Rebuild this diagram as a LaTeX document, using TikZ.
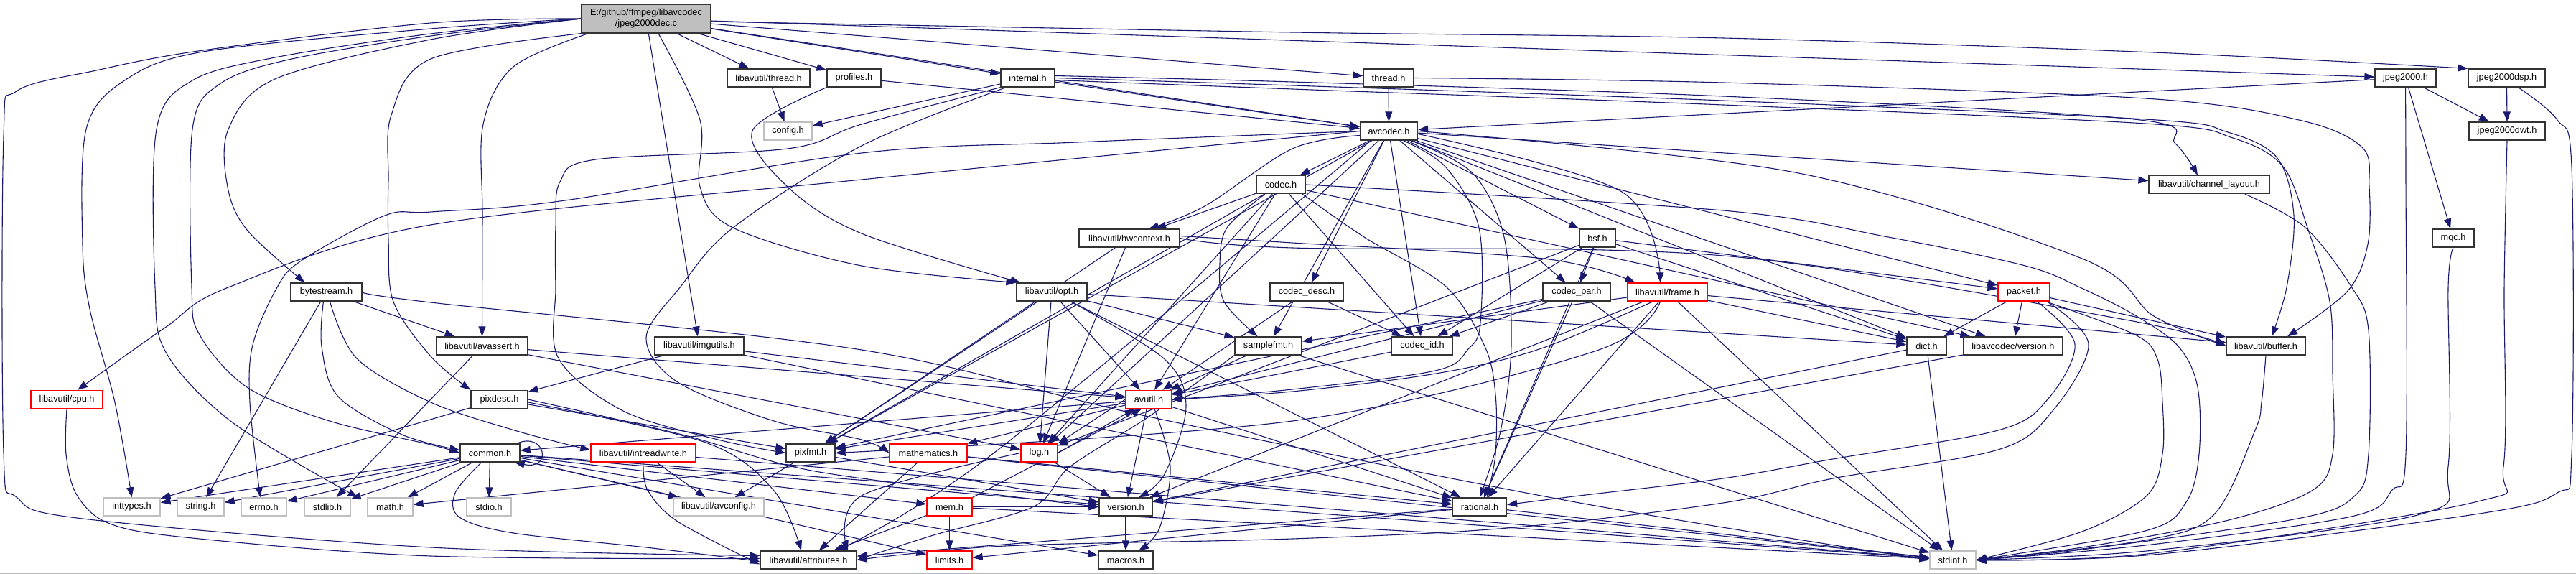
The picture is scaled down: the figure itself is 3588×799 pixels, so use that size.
\documentclass[tikz,border=0pt]{standalone}
\usepackage{fontspec}
\setmainfont{Liberation Sans}
\usetikzlibrary{arrows.meta}
\pgfdeclarelayer{bg}
\pgfsetlayers{bg,main}
\definecolor{edgec}{HTML}{191970}
\definecolor{grayb}{HTML}{BFBFBF}
\tikzset{
  box/.style={draw=black!80, line width=1.3pt, fill=white, minimum height=25pt, inner sep=0pt, font=\fontsize{12.7}{15}\selectfont},
  gbox/.style={box, draw=grayb},
  rbox/.style={box, draw=red},
  dep/.style={draw=edgec, line width=1.1pt, -{Triangle[length=14pt,width=10pt]}},
  cv/.style={dep, smooth, tension=0.55},
}
\begin{document}
\begin{tikzpicture}[x=1pt,y=-1pt]
\useasboundingbox (0,0) rectangle (3588,799);
\fill[black!28] (0,796.5) rectangle (3588,799);
% nodes
\node[box, fill=grayb, minimum width=180pt, minimum height=40pt, align=center] (root) at (900,26) {E:/github/ffmpeg/libavcodec\\/jpeg2000dec.c};
\node[box, minimum width=115pt] (lthread) at (1070.5,108.5) {libavutil/thread.h};
\node[box, minimum width=75pt] (profiles) at (1189.5,108.5) {profiles.h};
\node[box, minimum width=75pt] (internal) at (1431.5,108.5) {internal.h};
\node[box, minimum width=70pt] (thread) at (1934,108.5) {thread.h};
\node[box, minimum width=85pt] (jpeg2000) at (3350.5,108.5) {jpeg2000.h};
\node[box, minimum width=107pt] (jdsp) at (3491.5,108.5) {jpeg2000dsp.h};
\node[gbox, minimum width=67pt] (config) at (1097.5,182.5) {config.h};
\node[box, minimum width=80pt] (avcodec) at (1934.5,182.5) {avcodec.h};
\node[box, minimum width=106pt] (jdwt) at (3492,182.5) {jpeg2000dwt.h};
\node[box, minimum width=68pt] (codec) at (1784,257) {codec.h};
\node[box, minimum width=168pt] (chlayout) at (3077,257) {libavutil/channel\_layout.h};
\node[box, minimum width=140pt] (hwcontext) at (1573,331.5) {libavutil/hwcontext.h};
\node[box, minimum width=50pt] (bsf) at (2225,331.5) {bsf.h};
\node[box, minimum width=58pt] (mqc) at (3417,331.5) {mqc.h};
\node[box, minimum width=99pt] (bytestream) at (454.5,406.5) {bytestream.h};
\node[box, minimum width=98pt] (opt) at (1465,406.5) {libavutil/opt.h};
\node[box, minimum width=102pt] (codecdesc) at (1820,406.5) {codec\_desc.h};
\node[box, minimum width=94pt] (codecpar) at (2196,406.5) {codec\_par.h};
\node[rbox, minimum width=111pt] (frame) at (2322.5,406.5) {libavutil/frame.h};
\node[rbox, minimum width=72pt] (packet) at (2819,406.5) {packet.h};
\node[box, minimum width=127pt] (avassert) at (671.5,481.5) {libavutil/avassert.h};
\node[box, minimum width=124pt] (imgutils) at (974,481.5) {libavutil/imgutils.h};
\node[box, minimum width=93pt] (samplefmt) at (1766.5,481.5) {samplefmt.h};
\node[box, minimum width=85pt] (codecid) at (1981,481.5) {codec\_id.h};
\node[box, minimum width=55pt] (dict) at (2683.5,481.5) {dict.h};
\node[box, minimum width=138pt] (lcversion) at (2804,481.5) {libavcodec/version.h};
\node[box, minimum width=110pt] (buffer) at (3156,481.5) {libavutil/buffer.h};
\node[rbox, minimum width=100pt] (cpu) at (93,556) {libavutil/cpu.h};
\node[box, minimum width=79pt] (pixdesc) at (695.5,556) {pixdesc.h};
\node[rbox, minimum width=64pt] (avutil) at (1600,556) {avutil.h};
\node[box, minimum width=83pt] (common) at (682.5,630.5) {common.h};
\node[rbox, minimum width=146pt] (intreadwrite) at (896,630.5) {libavutil/intreadwrite.h};
\node[box, minimum width=68pt] (pixfmt) at (1129,630.5) {pixfmt.h};
\node[rbox, minimum width=108pt] (mathematics) at (1293,630.5) {mathematics.h};
\node[rbox, minimum width=51pt] (log) at (1447.5,630.5) {log.h};
\node[gbox, minimum width=79pt] (inttypes) at (183.5,705.5) {inttypes.h};
\node[gbox, minimum width=65pt] (string) at (279.5,705.5) {string.h};
\node[gbox, minimum width=63pt] (errno) at (367.5,705.5) {errno.h};
\node[gbox, minimum width=64pt] (stdlib) at (456,705.5) {stdlib.h};
\node[gbox, minimum width=63pt] (math) at (543.5,705.5) {math.h};
\node[gbox, minimum width=62pt] (stdio) at (681,705.5) {stdio.h};
\node[gbox, minimum width=126pt] (avconfig) at (1001,705.5) {libavutil/avconfig.h};
\node[rbox, minimum width=63pt] (mem) at (1322.5,705.5) {mem.h};
\node[box, minimum width=74pt] (version) at (1568,705.5) {version.h};
\node[box, minimum width=75pt] (rational) at (2061,705.5) {rational.h};
\node[box, minimum width=134pt] (attributes) at (1126,779.5) {libavutil/attributes.h};
\node[rbox, minimum width=63pt] (limits) at (1322.5,779.5) {limits.h};
\node[box, minimum width=76pt] (macros) at (1568,779.5) {macros.h};
\node[gbox, minimum width=64pt] (stdint) at (2720,779.5) {stdint.h};

\begin{pgfonlayer}{bg}
% straight connectors
\foreach \x/\y in {root/imgutils, root/lthread, root/profiles, root/internal, root/thread, root/avcodec, root/jpeg2000,
  lthread/config, profiles/avcodec, internal/config, internal/avcodec, thread/avcodec,
  avcodec/samplefmt, avcodec/chlayout, avcodec/dict, avcodec/log, avcodec/pixfmt, avcodec/bsf, avcodec/codec,
  avcodec/codecdesc, avcodec/codecpar, avcodec/codecid, avcodec/packet, avcodec/lcversion,
  codec/avutil, codec/hwcontext, codec/log, codec/pixfmt, codec/codecid, codec/lcversion,
  hwcontext/log, hwcontext/pixfmt,
  bsf/dict, bsf/log, bsf/rational, bsf/codecid, bsf/codecpar, bsf/packet,
  codecdesc/avutil, codecdesc/codecid, codecid/avutil,
  codecpar/stdint, codecpar/avutil, codecpar/rational, codecpar/pixfmt, codecpar/codecid,
  frame/stdint, frame/buffer, frame/dict, frame/rational, frame/samplefmt, frame/version,
  packet/buffer, packet/dict, packet/lcversion, lcversion/version, dict/stdint, dict/version,
  samplefmt/stdint, samplefmt/avutil,
  avutil/common, avutil/rational, avutil/version, avutil/mathematics, avutil/pixfmt,
  log/version, pixfmt/avconfig, pixfmt/version,
  rational/stdint, rational/limits, rational/attributes,
  mathematics/stdint, mathematics/math, mathematics/attributes, mathematics/rational,
  common/errno, common/inttypes, common/limits, common/math, common/stdint, common/stdio, common/stdlib,
  common/string, common/macros, common/version, common/avconfig, common/mem,
  intreadwrite/stdint, intreadwrite/avconfig,
  pixdesc/inttypes, pixdesc/pixfmt,
  imgutils/avutil, imgutils/pixdesc, imgutils/rational,
  avassert/stdlib, avassert/avutil, avassert/log,
  opt/rational, opt/avutil, opt/dict, opt/log, opt/pixfmt, opt/samplefmt,
  bytestream/string, bytestream/avassert,
  mem/limits, mem/stdint, mem/attributes, mem/version, version/macros,
  jpeg2000/avcodec, jpeg2000/mqc, jpeg2000/jdwt, jdsp/jdwt}
  \draw[dep] (\x) -- (\y);
% root, routed on the left
\draw[cv] plot coordinates {(root.west) (600,40) (283,72) (172,113) (120,180) (115,340) (125,430) (160,560) (inttypes.north)};
\draw[cv] plot coordinates {(root.west) (600,47) (383,80) (268,112) (218,180) (216,400) (232,492) (325,589) ([xshift=-45]math.north)};
\draw[cv] plot coordinates {(root.west) (600,50) (402,83) (306,117) (268,180) (267,400) (278,466) (344,539) (459,586) (600,619) (common.west)};
\draw[cv] plot coordinates {(root.west) (600,55) (383,110) (318,180) (317,260) (344,320) ([xshift=-30]bytestream.north)};
\draw[cv] plot coordinates {(root.west) (600,32) (283,70) (134,98) (23,127) (5,190) (5,630) (23,692) (115,722) (600,762) ([yshift=6]attributes.west)};
\draw[cv] plot coordinates {(root.south west) (600,82) (545,160) (541,250) (541,333) (548,420) (600,496) (pixdesc.north west)};
\draw[cv] plot coordinates {([xshift=10]root.south west) (715,93) (673,173) (672,300) (avassert.north)};
\draw[cv] plot coordinates {([xshift=17]root.south) (975,167) (975,260) (1021,317) (1200,370) (opt.north west)};
\draw[cv] plot coordinates {([yshift=-4]root.east) (1800,45) (2400,53) (3000,73) (jdsp.north west)};
% profiles, internal, thread
\draw[cv] plot coordinates {(profiles.south west) (1048,182) (1097,260) (1200,325) ([xshift=6]opt.north west)};
\draw[cv] plot coordinates {(internal.south west) (1200,173) (1097,207) (830,222) (780,253) (774,316) (774,400) (778,499) (868,572) (1000,612) (pixfmt.west)};
\draw[cv] plot coordinates {([xshift=8]internal.south west) (1200,203) (1021,317) (948,399) (900,470) (944,532) (1078,586) (1200,612) (mathematics.west)};
\draw[cv] plot coordinates {([yshift=3]internal.east) (1800,114) (2400,134) (2972,166) (3030,200) ([xshift=-16]chlayout.north)};
\draw[cv] plot coordinates {(internal.east) (1800,119) (2400,140) (2988,166) (3103,184) (3172,220) (3195,300) (3185,400) ([xshift=8]buffer.north)};
\draw[cv] plot coordinates {([yshift=-3]internal.east) (1800,124) (2400,146) (2988,172) (3110,192) (3180,232) (3215,320) (3245,420) (3249,520) (3249,632) (3220,683) (3100,725) (2900,762) (stdint.east)};
\draw[cv] plot coordinates {(thread.east) (2400,115) (2988,137) (3202,167) (3290,205) (3300,260) (3298,340) (3270,405) ([xshift=30]buffer.north)};
% avcodec routed
\draw[cv] plot coordinates {(avcodec.west) (1500,198) (1200,213) (780,280) (600,295) (536,300) (421,362) (386,400) (352,480) (348,560) ([xshift=-5]errno.north)};
\draw[cv] plot coordinates {(avcodec.west) (1200,250) (600,313) (318,400) (230,456) ([xshift=15]cpu.north)};
\draw[cv] plot coordinates {([xshift=20]avcodec.south) (2014,233) (2060,317) (2062,449) (2045,486) (1999,516) (1800,542) (avutil.east)};
\draw[cv] plot coordinates {([yshift=-6]avcodec.west) (1800,207) (1678,287) ([xshift=27]hwcontext.north)};
\draw[cv] plot coordinates {(avcodec.east) (2500,240) (2900,360) (3000,440) (buffer.west)};
\draw[cv] plot coordinates {([xshift=30]avcodec.south) (2050,240) (2095,330) (2105,480) (2090,600) (rational.north)};
\draw[cv] plot coordinates {([xshift=-25]avcodec.south) (1385,630) ([xshift=40]attributes.north)};
\draw[cv] plot coordinates {([yshift=-4]avcodec.east) (2259,267) ([xshift=-10]frame.north)};
% codec routed
\draw[cv] plot coordinates {([xshift=-22]codec.south) (1709,317) (1699,367) (1705,420) ([xshift=-15]samplefmt.north)};
\draw[cv] plot coordinates {([xshift=30]codec.south) (1900,330) (2014,399) (2068,482) (2083,549) (2083,632) ([xshift=10]rational.north)};
\draw[cv] plot coordinates {(codec.east) (2400,293) (2630,330) (2821,370) (2897,400) (2974,439) (3034,482) (3061,539) (3063,632) (3045,699) (2988,739) (stdint.east)};
% hwcontext, frame routed
\draw[cv] plot coordinates {(hwcontext.east) (1800,345) (2400,356) (2960,445) (buffer.west)};
\draw[cv] plot coordinates {([yshift=3]hwcontext.east) (1800,338) (2150,360) ([xshift=-45]frame.north)};
\draw[cv] plot coordinates {([xshift=-20]frame.south) (2144,486) (2000,520) (1800,545) (avutil.east)};
\draw[cv] plot coordinates {([xshift=-10]frame.south) (2221,489) (1800,586) (pixfmt.east)};
% packet routed
\draw[cv] plot coordinates {([xshift=30]packet.south) (2974,466) (3005,500) (3012,560) (3012,632) (2990,690) (2900,740) (stdint.east)};
\draw[cv] plot coordinates {([xshift=18]packet.south) (2890,479) (2852,556) (2783,599) (2553,639) (2400,666) (2200,690) ([yshift=3]rational.east)};
\draw[cv] plot coordinates {([xshift=32]packet.south) (2909,479) (2859,572) (2783,626) (2553,666) (2400,700) (2100,735) (1800,750) (1400,760) (attributes.east)};
% right-side loops to stdint
\draw[cv] plot coordinates {(buffer.south) (3150,560) (3141,599) (3084,716) (2988,752) (stdint.east)};
\draw[cv] plot coordinates {([xshift=50]chlayout.south) (3210,316) (3275,399) (3299,460) (3299,632) (3280,690) (3200,722) (2900,765) (stdint.east)};
\draw[cv] plot coordinates {(jpeg2000.south) (3351,250) (3351,632) (3332,682) (3275,719) (2988,759) (stdint.east)};
\draw[cv] plot coordinates {(mqc.south) (3410,400) (3410,649) (3371,716) (3000,766) (stdint.east)};
\draw[cv] plot coordinates {(jdwt.south) (3488,400) (3487,649) (3447,699) (3000,770) (stdint.east)};
\draw[cv] plot coordinates {([xshift=16]jdsp.south) (3562,167) (3582,233) (3582,632) (3562,686) (3447,716) (3000,772) (stdint.east)};
% avutil / log / mem
\draw[cv] plot coordinates {([xshift=8]avutil.south) (1630,650) (1615,735) ([xshift=18]macros.north)};
\draw[dep] (avutil.west) -- (log.north east);
\draw[dep] (log.east) -- ([xshift=-20]avutil.south);
\draw[dep] (mem.north east) -- ([xshift=-10]avutil.south);
\draw[cv] plot coordinates {(log.west) (1200,690) ([xshift=55]attributes.north)};
\draw[cv] plot coordinates {(samplefmt.south west) (1600,580) (1490,650) (1440,705) (1300,745) (attributes.east)};
% pixdesc
\draw[cv] plot coordinates {(pixdesc.east) (950,605) (1130,655) (1400,690) (version.west)};
\draw[cv] plot coordinates {([yshift=-4]pixdesc.east) (983,616) (1078,683) ([xshift=-10]attributes.north)};
% common
\draw[dep] ([xshift=-5]common.north east) .. controls (760,600) and (770,655) .. ([xshift=-8]common.south east);
\draw[cv] plot coordinates {([xshift=-12]common.south) (634,686) (640,720) (715,742) (900,762) ([yshift=-2]attributes.west)};
\draw[cv] plot coordinates {(intreadwrite.south) (902,682) (944,726) ([yshift=-6]attributes.west)};
\draw[cv] plot coordinates {(cpu.south) (92,632) (107,689) (153,729) (268,749) (600,774) ([yshift=2]attributes.west)};
% opt, bytestream
\draw[cv] plot coordinates {([xshift=26]opt.south) (1621,499) (1652,566) (1622,660) ([xshift=18]version.north)};
\draw[cv] plot coordinates {(bytestream.east) (600,421) (1200,487) (1600,580) (2200,700) (stdint.west)};
\draw[cv] plot coordinates {([xshift=-4]bytestream.south) (448,482) (471,552) (560,605) ([yshift=4]common.west)};
\draw[cv] plot coordinates {([xshift=5]bytestream.south) (497,499) (600,560) (720,600) ([yshift=4]intreadwrite.west)};
\end{pgfonlayer}
\end{tikzpicture}
\end{document}
